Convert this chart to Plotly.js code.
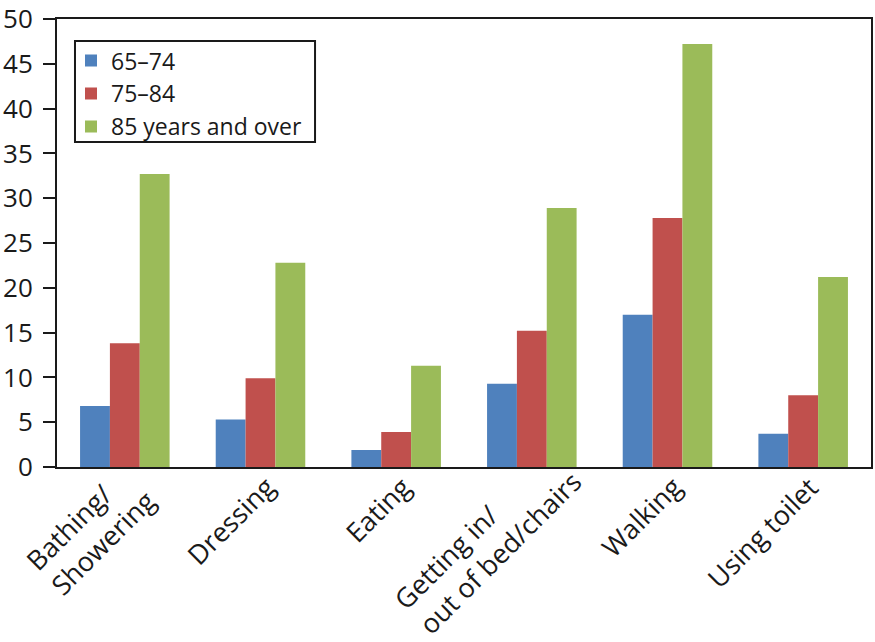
<!DOCTYPE html>
<html>
<head>
<meta charset="utf-8">
<script src="https://cdn.plot.ly/plotly-3.0.1.min.js"></script>
<style>html,body{margin:0;padding:0;background:#fff;}#chart{width:875px;height:642px;}</style>
</head>
<body>
<div id="chart"></div>
<script>
const categories = ["Bathing/<br>Showering", "Dressing", "Eating", "Getting in/<br>out of bed/chairs", "Walking", "Using toilet"];
const seriesNames = ["65–74", "75–84", "85 years and over"];
const values6574 = [6.8, 5.3, 1.9, 9.3, 17.0, 3.7];
const values7584 = [13.8, 9.9, 3.9, 15.2, 27.8, 8.0];
const values85plus = [32.7, 22.8, 11.3, 28.9, 47.2, 21.2];
const yTicks = [0, 5, 10, 15, 20, 25, 30, 35, 40, 45, 50];
const colors = ["#4F81BD", "#C0504D", "#9BBB59"];

const allValues = [values6574, values7584, values85plus];
const data = allValues.map((v, i) => ({
  type: "bar",
  x: categories,
  y: v,
  name: seriesNames[i],
  marker: {color: colors[i]}
}));

// label placement (layout only): shift of rotated label box relative to its category
const labelShift = [[41, 12], [25, 1], [25, 1], [60, 31], [25, 1], [25, 1]];
const annotations = categories.map((c, i) => ({
  x: c, y: 0, xref: "x", yref: "y",
  text: c, showarrow: false, textangle: -45,
  align: "left", xanchor: "right", yanchor: "top",
  xshift: labelShift[i][0], yshift: labelShift[i][1],
  font: {size: 27, color: "#1a1a1a"}
}));

const layout = {
  width: 875, height: 642,
  margin: {l: 57, r: 4, t: 19, b: 175},
  paper_bgcolor: "#fff", plot_bgcolor: "#fff",
  font: {family: "Open Sans, sans-serif", size: 26, color: "#1a1a1a"},
  barmode: "group",
  bargap: 0.34,
  bargroupgap: 0,
  showlegend: true,
  legend: {
    x: 0.0172, y: 0.955, xanchor: "left", yanchor: "top",
    borderwidth: 0, bgcolor: "rgba(0,0,0,0)",
    font: {size: 23, color: "#1a1a1a"},
    tracegroupgap: 0
  },
  shapes: [{
    type: "rect", xref: "paper", yref: "paper",
    x0: 0.0221, x1: 0.317, y0: 0.7254, y1: 0.951,
    line: {color: "#1a1a1a", width: 2}, fillcolor: "rgba(0,0,0,0)", layer: "above"
  }],
  annotations: annotations,
  xaxis: {
    type: "category",
    range: [-0.5, categories.length - 0.5], autorange: false,
    showticklabels: false,
    showline: true, linecolor: "#1a1a1a", linewidth: 2, mirror: true,
    ticks: "", showgrid: false, zeroline: false
  },
  yaxis: {
    range: [0, 50], autorange: false, tickvals: yTicks, ticktext: yTicks.map(String),
    showline: true, linecolor: "#1a1a1a", linewidth: 2, mirror: true,
    ticks: "outside", ticklen: 12, tickwidth: 2, tickcolor: "#1a1a1a",
    ticklabelstandoff: 5, ticklabeloverflow: "allow",
    showgrid: false, zeroline: false,
    tickfont: {size: 26}
  }
};
Plotly.newPlot("chart", data, layout, {displayModeBar: false, staticPlot: true});
</script>
</body>
</html>
